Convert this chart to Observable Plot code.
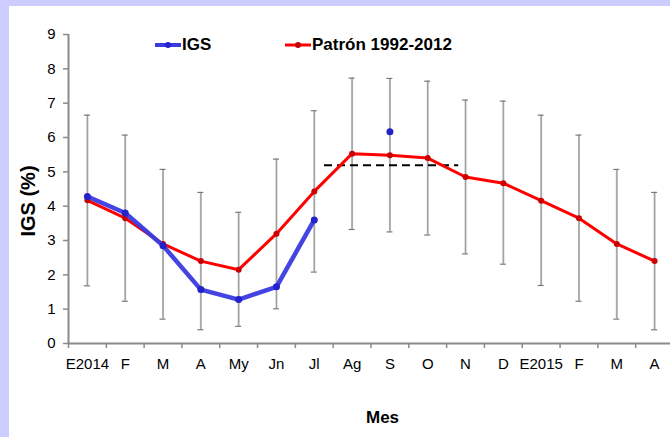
<!DOCTYPE html>
<html>
<head>
<meta charset="utf-8">
<script src="https://cdn.jsdelivr.net/npm/d3@7"></script>
<script src="https://cdn.jsdelivr.net/npm/@observablehq/plot@0.6"></script>
<style>
  html, body { margin: 0; padding: 0; width: 670px; height: 437px; overflow: hidden; background: #ccccff; }
  #panel { position: absolute; left: 9px; top: 6px; width: 670px; height: 431px; background: #fff; overflow: hidden; }
  #chart { position: absolute; left: 0; top: 0; }
  .leg { position: absolute; font-family: "Liberation Sans", Arial, sans-serif; font-weight: bold; font-size: 17px; color: #000; line-height: 20px; white-space: nowrap; }
  .legsw { position: absolute; }
  #ytitle { position: absolute; left: 19px; top: 195px; transform: translate(-50%, -50%) rotate(-90deg);
            font-family: "Liberation Sans", Arial, sans-serif; font-weight: bold; font-size: 20px; line-height: 20px; white-space: nowrap; color: #000; }
</style>
</head>
<body>
<div id="panel"><div id="chart"></div><div id="ytitle"></div></div>
<script>
// Data
const months = ["E2014","F","M","A","My","Jn","Jl","Ag","S","O","N","D","E2015","F","M","A"];
const patron = [4.17, 3.65, 2.90, 2.40, 2.15, 3.20, 4.43, 5.53, 5.48, 5.40, 4.85, 4.67, 4.16, 3.65, 2.90, 2.40];
const igs    = [4.28, 3.80, 2.85, 1.57, 1.28, 1.65, 3.60, null, 6.17, null, null, null, null, null, null, null];
const errHigh = [6.65, 6.07, 5.07, 4.40, 3.82, 5.37, 6.78, 7.73, 7.72, 7.64, 7.09, 7.06, 6.65, 6.07, 5.07, 4.40];
const errLow  = [1.68, 1.23, 0.71, 0.40, 0.50, 1.01, 2.08, 3.32, 3.25, 3.16, 2.61, 2.31, 1.69, 1.23, 0.71, 0.40];
const meanLevel = 5.19;          // dashed reference level
const meanSpan = [6.77, 10.32];  // month-index span of the dashed line
const yTicks = [0,1,2,3,4,5,6,7,8,9];
const seriesNames = ["IGS", "Patrón 1992-2012"];
const yTitle = "IGS (%)";
const xTitle = "Mes";

const rows = months.map((m, i) => ({
  x: i + 0.5, m, patron: patron[i], igs: igs[i], lo: errLow[i], hi: errHigh[i]
}));

const font = '"Liberation Sans", Arial, sans-serif';
const axisColor = "#8a8a8a";
const blue = "#3a3ae0", blueDot = "#2222c8";
const red = "#ff0000", redDot = "#c80000";

const chart = Plot.plot({
  width: 664,
  height: 431,
  marginLeft: 59,
  marginRight: 0,
  marginTop: 28,
  marginBottom: 94,
  style: { fontFamily: font, fontSize: "15px", color: "#000", background: "transparent", overflow: "visible" },
  x: { type: "linear", domain: [0, 16], axis: null },
  y: { domain: [0, 9], axis: null },
  marks: [
    // error bars
    Plot.ruleX(rows, { x: "x", y1: "lo", y2: "hi", stroke: "#bdbdbd", strokeWidth: 2 }),
    Plot.ruleX(rows, { x: "x", y1: "lo", y2: "hi", stroke: "#909090", strokeWidth: 0.7 }),
    Plot.ruleY(rows, { y: "hi", x1: "x", x2: "x", insetLeft: -3, insetRight: -3, stroke: "#7a7a7a", strokeWidth: 1.2 }),
    Plot.ruleY(rows, { y: "lo", x1: "x", x2: "x", insetLeft: -3, insetRight: -3, stroke: "#7a7a7a", strokeWidth: 1.2 }),
    // dashed mean line
    Plot.ruleY([meanLevel], { x1: meanSpan[0], x2: meanSpan[1], stroke: "#000", strokeWidth: 2, strokeDasharray: "8,5" }),
    // patrón
    Plot.line(rows, { x: "x", y: "patron", stroke: red, strokeWidth: 3 }),
    Plot.dot(rows, { x: "x", y: "patron", r: 3, fill: redDot, stroke: "none" }),
    // IGS
    Plot.line(rows, { x: "x", y: "igs", stroke: blue, strokeWidth: 4.5, strokeOpacity: 0.95 }),
    Plot.dot(rows.filter(d => d.igs != null), { x: "x", y: "igs", r: 3.5, fill: blueDot, stroke: "none" }),
    // axes lines
    Plot.ruleY([0], { stroke: axisColor, strokeWidth: 2 }),
    Plot.ruleX([0], { y1: 0, y2: 9, stroke: axisColor, strokeWidth: 2 }),
    // x axis: boundary ticks + labels
    Plot.axisX(d3.range(17), { tickSize: 5, tickFormat: () => "", stroke: axisColor, strokeWidth: 1.5, label: null }),
    Plot.axisX(rows.map(d => d.x), { tickSize: 0, tickPadding: 15, tickFormat: d => months[Math.floor(d)], fontSize: 15, fill: "#000", label: null }),
    // y axis
    Plot.axisY(yTicks, { tickSize: 5, tickPadding: 8, stroke: axisColor, strokeWidth: 1.5, fontSize: 15, fill: "#000", label: null }),
    // x title
    Plot.text([xTitle], { frameAnchor: "bottom", dx: 11.5, dy: 74, fontWeight: "bold", fontSize: 17, fill: "#000", lineAnchor: "middle" })
  ]
});
document.getElementById("chart").appendChild(chart);
document.getElementById("ytitle").textContent = yTitle;

// legend (page coords minus panel offset 9,6)
const panel = document.getElementById("panel");
function legendItem(x0, color, dotColor, lw, label) {
  const ns = "http://www.w3.org/2000/svg";
  const svg = document.createElementNS(ns, "svg");
  svg.setAttribute("width", 26); svg.setAttribute("height", 10);
  svg.classList.add("legsw");
  svg.style.left = (x0 - 9) + "px"; svg.style.top = (45 - 5 - 6) + "px";
  const l = document.createElementNS(ns, "line");
  l.setAttribute("x1", 0); l.setAttribute("x2", 26); l.setAttribute("y1", 5); l.setAttribute("y2", 5);
  l.setAttribute("stroke", color); l.setAttribute("stroke-width", lw);
  svg.appendChild(l);
  const c = document.createElementNS(ns, "circle");
  c.setAttribute("cx", 13); c.setAttribute("cy", 5); c.setAttribute("r", 3); c.setAttribute("fill", dotColor);
  svg.appendChild(c);
  panel.appendChild(svg);
  const t = document.createElement("div");
  t.className = "leg"; t.textContent = label;
  t.style.left = (x0 + 27 - 9) + "px"; t.style.top = (45 - 10 - 6) + "px";
  panel.appendChild(t);
}
legendItem(155, blue, blueDot, 4, seriesNames[0]);
legendItem(285, red, redDot, 3, seriesNames[1]);
</script>
</body>
</html>
